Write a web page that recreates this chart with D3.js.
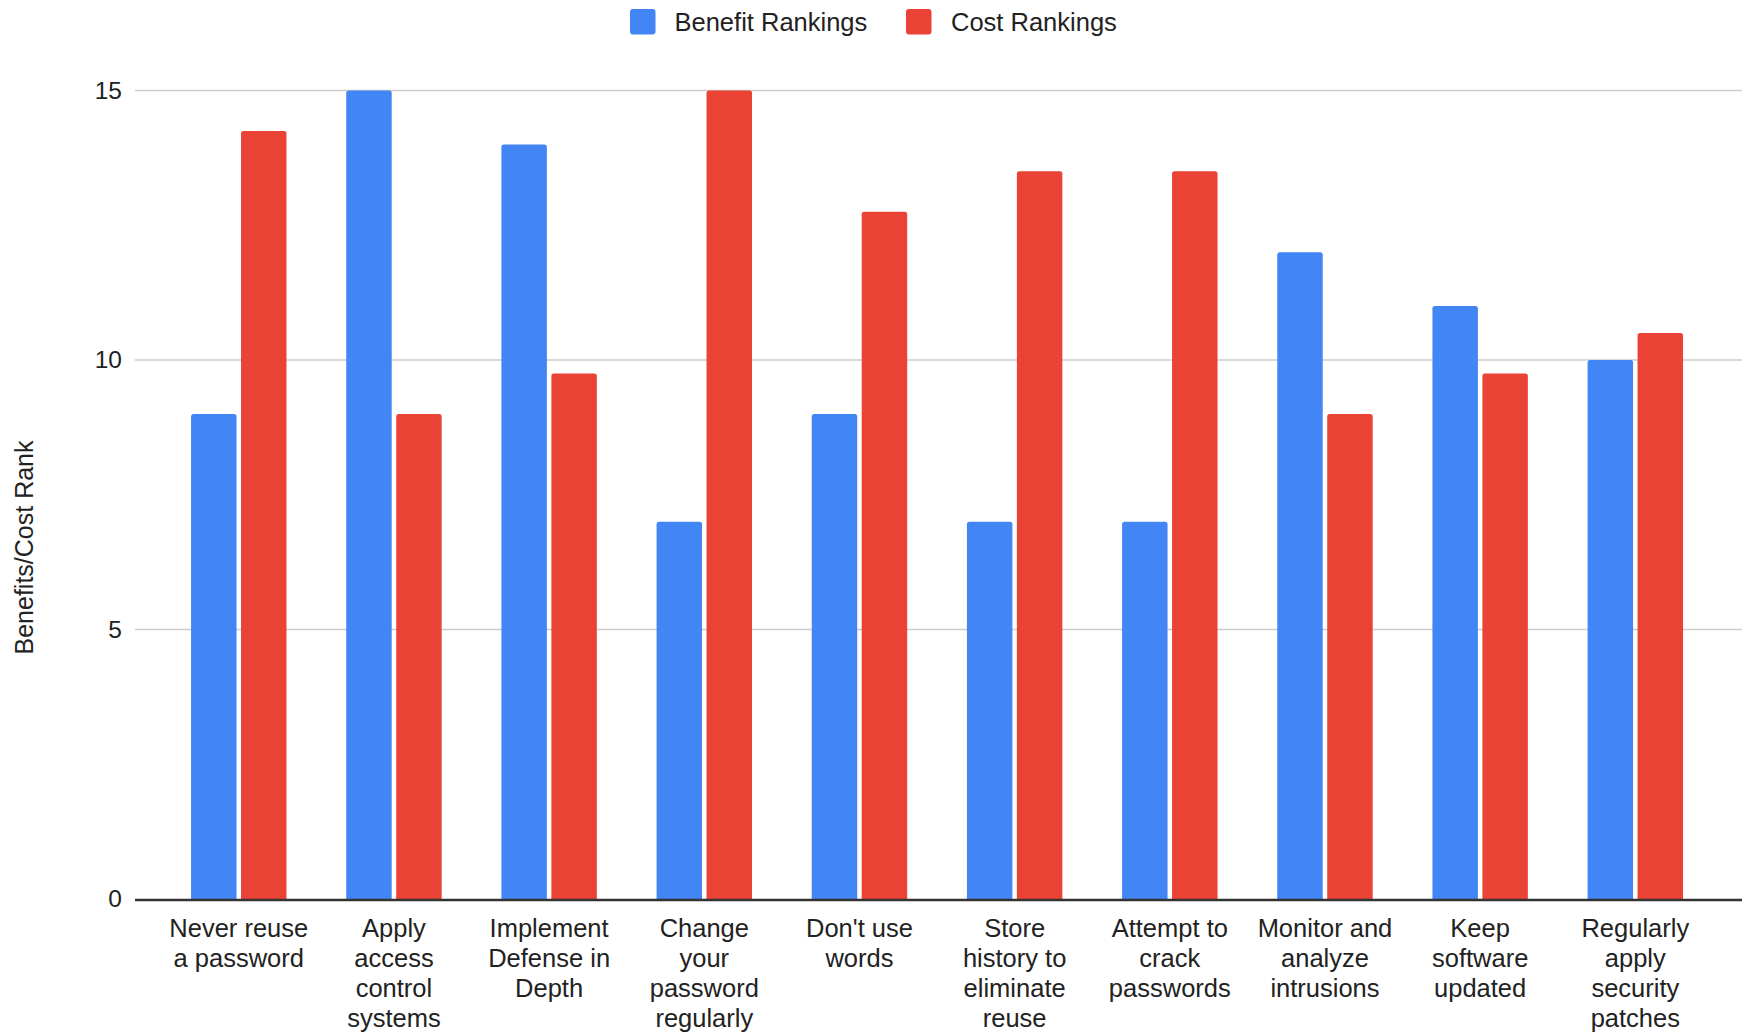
<!DOCTYPE html>
<html>
<head>
<meta charset="utf-8">
<script src="https://cdn.jsdelivr.net/npm/d3@7"></script>
<style>
  html, body { margin: 0; padding: 0; background: #fff; }
  svg { display: block; font-family: "Liberation Sans", Arial, sans-serif; }
</style>
</head>
<body>
<svg id="chart" width="1749" height="1033"></svg>
<script>
// ---- data ----
const categories = [
  "Never reuse a password",
  "Apply access control systems",
  "Implement Defense in Depth",
  "Change your password regularly",
  "Don't use words",
  "Store history to eliminate reuse",
  "Attempt to crack passwords",
  "Monitor and analyze intrusions",
  "Keep software updated",
  "Regularly apply security patches"
];
const tickLabelLines = [
  ["Never reuse", "a password"],
  ["Apply", "access", "control", "systems"],
  ["Implement", "Defense in", "Depth"],
  ["Change", "your", "password", "regularly"],
  ["Don't use", "words"],
  ["Store", "history to", "eliminate", "reuse"],
  ["Attempt to", "crack", "passwords"],
  ["Monitor and", "analyze", "intrusions"],
  ["Keep", "software", "updated"],
  ["Regularly", "apply", "security", "patches"]
];
const seriesNames = ["Benefit Rankings", "Cost Rankings"];
const benefitRankings = [9, 15, 14, 7, 9, 7, 7, 12, 11, 10];
const costRankings = [14.25, 9, 9.75, 15, 12.75, 13.5, 13.5, 9, 9.75, 10.5];
const yTicks = [0, 5, 10, 15];
const yTitle = "Benefits/Cost Rank";

// ---- layout ----
const colors = ["#4285F4", "#EA4335"];
const svg = d3.select("#chart");
const gridLeft = 135, gridRight = 1742;
const y = d3.scaleLinear().domain([0, 15]).range([899, 90.5]);
const x0 = d3.scaleBand().domain(categories).range([161.2, 1712.9])
  .paddingInner(0.385).paddingOuter(0.1925);
const x1 = d3.scaleBand().domain(seriesNames).range([0, x0.bandwidth()]).paddingInner(0.09);

// gridlines
svg.append("g").selectAll("line").data(yTicks.filter(d => d !== 0)).join("line")
  .attr("x1", gridLeft).attr("x2", gridRight)
  .attr("y1", d => y(d)).attr("y2", d => y(d))
  .attr("stroke", "#cccccc").attr("stroke-width", 1.3);

// y axis tick labels
const yAxis = d3.axisLeft(y).tickValues(yTicks).tickSize(0).tickPadding(0);
const yg = svg.append("g").attr("transform", `translate(122,0)`).call(yAxis);
yg.select(".domain").remove();
yg.selectAll("text").attr("font-size", "24.5px").attr("fill", "#222")
  .attr("font-family", '"Liberation Sans", Arial, sans-serif');

// bars
const rows = categories.map((c, i) => ({ c, vals: [benefitRankings[i], costRankings[i]] }));
function topRounded(x, yTop, w, yBot, r) {
  return `M${x},${yBot} L${x},${yTop + r} Q${x},${yTop} ${x + r},${yTop} L${x + w - r},${yTop} Q${x + w},${yTop} ${x + w},${yTop + r} L${x + w},${yBot} Z`;
}
const groups = svg.append("g").selectAll("g").data(rows).join("g")
  .attr("transform", d => `translate(${x0(d.c)},0)`);
groups.selectAll("path").data(d => d.vals.map((v, j) => ({ v, s: seriesNames[j], j }))).join("path")
  .attr("d", d => topRounded(x1(d.s), y(d.v), x1.bandwidth(), y(0), 2.5))
  .attr("fill", d => colors[d.j]);

// baseline axis
svg.append("line").attr("x1", gridLeft).attr("x2", gridRight)
  .attr("y1", y(0) + 1).attr("y2", y(0) + 1)
  .attr("stroke", "#333").attr("stroke-width", 2.5);

// x tick labels
const xg = svg.append("g");
categories.forEach((c, i) => {
  const cx = x0(c) + x0.bandwidth() / 2;
  const t = xg.append("text").attr("x", cx).attr("y", 937)
    .attr("text-anchor", "middle").attr("font-size", "25.5px").attr("fill", "#222");
  tickLabelLines[i].forEach((ln, k) => {
    t.append("tspan").attr("x", cx).attr("y", 937 + k * 30).text(ln);
  });
});

// y title
svg.append("text")
  .attr("transform", "translate(33,547.5) rotate(-90)")
  .attr("text-anchor", "middle").attr("font-size", "25px").attr("fill", "#222")
  .text(yTitle);

// legend
const legendItems = [
  { name: seriesNames[0], color: colors[0], sx: 630, tx: 674.5 },
  { name: seriesNames[1], color: colors[1], sx: 906, tx: 951 }
];
const lg = svg.append("g");
legendItems.forEach(it => {
  lg.append("rect").attr("x", it.sx).attr("y", 9).attr("width", 25.5).attr("height", 25.5)
    .attr("rx", 3).attr("fill", it.color);
  lg.append("text").attr("x", it.tx).attr("y", 30.5).attr("font-size", "25.5px")
    .attr("fill", "#222").text(it.name);
});
</script>
</body>
</html>
